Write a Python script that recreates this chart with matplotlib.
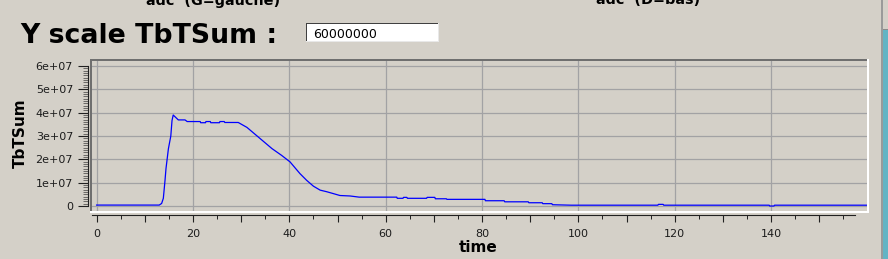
import matplotlib
matplotlib.use("Agg")
import matplotlib.pyplot as plt
from matplotlib.patches import Rectangle
from matplotlib.transforms import IdentityTransform

W, H = 888, 259
BG = "#d4d0c8"

# ---------------------------
# data
# ---------------------------
time = [0, 13.0, 13.5, 13.85, 14.2, 14.4, 14.9, 15.4, 15.65, 15.9,
        16.96, 18.35, 18.8, 21.5, 21.6, 22.6, 22.7, 23.6, 23.7, 25.5, 25.6,
        26.5, 26.6, 29.4, 31.2, 33.2, 36.4, 38.4, 40.15, 42.2, 43.6, 45.0,
        46.4, 47.8, 49.5, 50.5, 52.6, 54.5, 62.3, 62.4, 63.6, 63.7, 64.4,
        64.5, 68.5, 68.6, 69.6, 70.2, 70.3, 72.6, 72.7, 80.6, 80.7, 84.6,
        84.7, 89.6, 89.7, 92.5, 92.6, 94.5, 94.6, 98.5, 116.5, 116.6, 117.6,
        117.7, 139.6, 139.7, 140.6, 140.7, 160.0]
tbtsum = [0.04e7, 0.04e7, 0.11e7, 0.33e7, 1.1e7, 1.6e7, 2.45e7, 3.0e7,
          3.66e7, 3.9e7, 3.69e7, 3.69e7, 3.62e7, 3.62e7, 3.57e7, 3.57e7,
          3.62e7, 3.62e7, 3.57e7, 3.57e7, 3.62e7, 3.62e7, 3.58e7, 3.58e7,
          3.37e7, 3.02e7, 2.46e7, 2.17e7, 1.89e7, 1.39e7, 1.1e7, 0.85e7,
          0.68e7, 0.61e7, 0.51e7, 0.45e7, 0.43e7, 0.38e7, 0.38e7, 0.33e7,
          0.33e7, 0.37e7, 0.37e7, 0.33e7, 0.33e7, 0.37e7, 0.37e7, 0.37e7,
          0.31e7, 0.31e7, 0.285e7, 0.285e7, 0.226e7, 0.226e7, 0.18e7, 0.18e7,
          0.14e7, 0.14e7, 0.10e7, 0.10e7, 0.055e7, 0.035e7, 0.035e7,
          0.07e7, 0.07e7, 0.035e7, 0.035e7, 0.0, 0.0, 0.035e7, 0.035e7]

x_major = [0, 10, 20, 30, 40, 50, 60, 70, 80, 90, 100, 110, 120, 130, 140, 150]
x_labels = ["0", "", "20", "", "40", "", "60", "", "80", "", "100", "",
            "120", "", "140", ""]
y_major = [0, 1e7, 2e7, 3e7, 4e7, 5e7, 6e7]
y_labels = ["0", "1e+07", "2e+07", "3e+07", "4e+07", "5e+07", "6e+07"]


def px_rect(fig, x, y, w, h, color, z=5):
    # rectangle given in screen pixels, origin top-left
    r = Rectangle((x, H - y - h), w, h, transform=IdentityTransform(),
                  facecolor=color, edgecolor="none", zorder=z)
    fig.patches.append(r)


fig = plt.figure(figsize=(W / 100, H / 100), dpi=100, facecolor=BG)

# plot area (inside the sunken frame)
L, R, T, B = 92, 867, 61, 211
ax = fig.add_axes([L / W, 1 - B / H, (R - L) / W, (B - T) / H])
ax.set_facecolor(BG)

ax.plot(time, tbtsum, color="#0000ff", lw=0.9, zorder=3)

ax.set_xlim(-0.955, 159.9)
ax.set_ylim(-0.214e7, 6.215e7)

ax.set_xticks(x_major, x_labels)
ax.set_xticks([v + 5 for v in x_major], minor=True)
ax.set_yticks(y_major, y_labels)
ax.set_yticks([i * 1e6 for i in range(61)], minor=True)

for s in ("top", "right"):
    ax.spines[s].set_visible(False)
ax.spines["left"].set_position(("outward", 2.9))
ax.spines["left"].set_bounds(0, 6e7)
ax.spines["bottom"].set_position(("outward", 2.9))
ax.spines["bottom"].set_bounds(-1, 157.4)
for s in ("left", "bottom"):
    ax.spines[s].set_color("#202020")
    ax.spines[s].set_linewidth(0.8)

ax.tick_params(axis="y", which="major", length=7.2, width=0.8,
               color="#202020", labelsize=8, pad=3.5, labelcolor="#1c1c1c")
ax.tick_params(axis="y", which="minor", length=3.6, width=0.45, color="#303030")
ax.tick_params(axis="x", which="major", length=5, width=0.8,
               color="#202020", labelsize=8, pad=5, labelcolor="#1c1c1c")
ax.tick_params(axis="x", which="minor", length=2.9, width=0.7, color="#202020")

# grid only on labelled positions
for v in [0, 20, 40, 60, 80, 100, 120, 140]:
    ax.axvline(v, color="#a2a2a4", lw=0.9, zorder=1)
for v in y_major:
    ax.axhline(v, color="#a2a2a4", lw=0.9, zorder=1)

# sunken frame
px_rect(fig, 90, 59, 779, 2, "#6f6f6f")
px_rect(fig, 90, 59, 2, 154, "#6f6f6f")
px_rect(fig, 90, 211, 779, 2, "#ffffff")
px_rect(fig, 867, 59, 2, 154, "#ffffff")

# axis titles
fig.text(20.5 / W, 1 - 133 / H, "TbTSum", rotation=90, fontsize=11,
         fontweight="bold", ha="center", va="center", color="#000000")
fig.text(478 / W, 1 - 247 / H, "time", fontsize=11, fontweight="bold",
         ha="center", va="center", color="#000000")

# header widgets
fig.text(20 / W, 1 - 43 / H, "Y scale TbTSum :", fontsize=19.3,
         fontweight="bold", ha="left", va="baseline", color="#000000")
px_rect(fig, 306, 23, 133, 19, "#ffffff", z=4)
px_rect(fig, 306, 23, 133, 1, "#404040")
px_rect(fig, 306, 23, 1, 19, "#404040")
px_rect(fig, 306, 41, 133, 1, "#e8e8e8")
px_rect(fig, 438, 23, 1, 19, "#e8e8e8")
fig.text(313 / W, 1 - 37.5 / H, "60000000", fontsize=9, ha="left",
         va="baseline", color="#000000", zorder=6)

# labels cut off at the top of the window (they are cut in the screenshot too)
fig.text(145.6 / W, 1 - 4.5 / H, "adc  (G=gauche)", fontsize=10.4,
         fontweight="bold", ha="left", va="baseline", color="#000000")
fig.text(596 / W, 1 - 4.5 / H, "adc  (D=bas)", fontsize=10.4,
         fontweight="bold", ha="left", va="baseline", color="#000000")

# window edge on the right
px_rect(fig, 881, 0, 2, H, "#9a9a9a")
px_rect(fig, 883, 30, 5, H - 30, "#64b4c4")
px_rect(fig, 883, 29, 5, 1, "#8a8a8a")

fig.savefig("out.png", dpi=100, facecolor=BG)
